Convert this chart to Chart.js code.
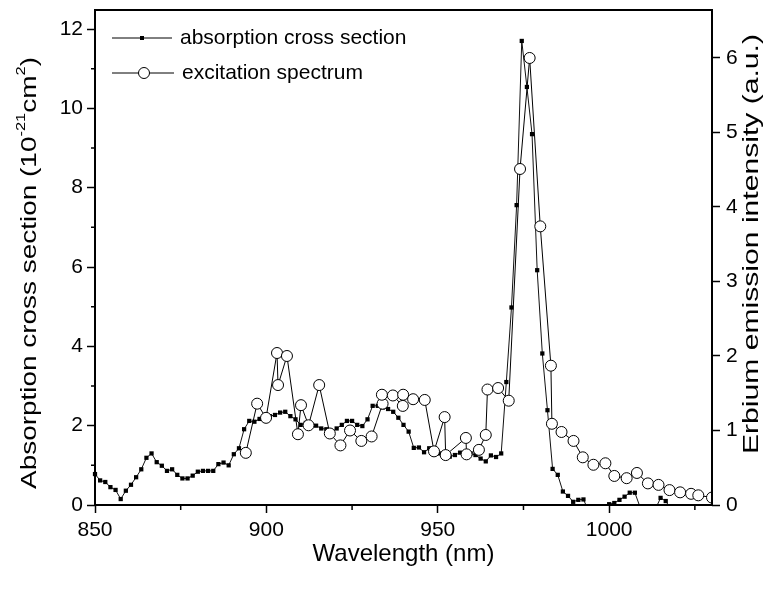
<!DOCTYPE html>
<html>
<head>
<meta charset="utf-8">
<script src="https://cdn.jsdelivr.net/npm/chart.js@4"></script>
<style>
  html, body { margin: 0; padding: 0; background: #fff; }
</style>
</head>
<body>
<canvas id="chart" width="774" height="590"></canvas>
<script>
// absorption cross section, 10^-21 cm^2 (left axis)
const absorption_wl = [
  850, 851.5, 853, 854.5, 856, 857.5, 859, 860.5, 862, 863.5,
  865, 866.5, 868, 869.5, 871, 872.5, 874, 875.5, 877, 878.5,
  880, 881.5, 883, 884.5, 886, 887.5, 889, 890.5, 892, 893.5,
  895, 896.5, 898, 899.5, 901, 902.5, 904, 905.5, 907, 908.5,
  910, 911.5, 913, 914.5, 916, 917.5, 919, 920.5, 922, 923.5,
  925, 926.5, 928, 929.5, 931, 932.5, 934, 935.5, 937, 938.5,
  940, 941.5, 943, 944.5, 946, 947.5, 949, 950.5, 952, 953.5,
  955, 956.5, 958, 959.5, 961, 962.5, 964, 965.5, 967, 968.5,
  970, 971.5, 973, 974.5, 976, 977.5, 979, 980.5, 982, 983.5,
  985, 986.5, 988, 989.5, 991, 992.5, 994, 995.5, 997, 998.5,
  1000, 1001.5, 1003, 1004.5, 1006, 1007.5, 1009, 1010.5, 1012, 1013.5,
  1015, 1016.5, 1018
];
const absorption = [
  0.78, 0.62, 0.58, 0.45, 0.38, 0.15, 0.36, 0.51, 0.70, 0.90,
  1.19, 1.30, 1.08, 0.99, 0.86, 0.90, 0.76, 0.67, 0.67, 0.74,
  0.84, 0.86, 0.86, 0.86, 1.03, 1.07, 1.00, 1.28, 1.43, 1.91,
  2.12, 2.10, 2.17, 2.21, 2.24, 2.27, 2.33, 2.35, 2.24, 2.16,
  2.02, 2.07, 2.02, 2.00, 1.93, 1.91, 1.83, 1.93, 2.02, 2.12,
  2.12, 2.02, 1.99, 2.16, 2.50, 2.50, 2.46, 2.42, 2.35, 2.20,
  2.02, 1.85, 1.44, 1.45, 1.33, 1.43, 1.36, 1.30, 1.27, 1.22,
  1.26, 1.32, 1.33, 1.30, 1.26, 1.17, 1.10, 1.25, 1.21, 1.30,
  3.10, 4.98, 7.56, 11.70, 10.54, 9.35, 5.92, 3.82, 2.39, 0.91,
  0.76, 0.34, 0.23, 0.08, 0.13, 0.14, -0.15, -0.30, -0.30, -0.10,
  0.02, 0.05, 0.13, 0.21, 0.31, 0.31, -0.05, -0.30, -0.30, -0.10,
  0.18, 0.10, -0.10
];

// excitation spectrum, a.u. (right axis)
const excitation_wl = [
  894.0, 897.3, 899.9, 903.1, 903.4, 906.0, 909.2, 910.1, 912.3, 915.4,
  918.5, 921.6, 924.4, 927.7, 930.7, 933.9, 933.7, 936.9, 939.8, 939.9,
  942.8, 946.2, 948.9, 952.0, 952.3, 958.2, 958.4, 962.0, 964.0, 964.5,
  967.6, 970.7, 974.0, 976.8, 979.9, 983.0, 983.3, 986.1, 989.6, 992.3,
  995.4, 998.9, 1001.5, 1005.1, 1008.1, 1011.3, 1014.4, 1017.6, 1020.7, 1023.9,
  1026.0, 1030.0
];
const excitation = [
  0.70, 1.36, 1.17, 2.04, 1.61, 2.00, 0.95, 1.34, 1.07, 1.61,
  0.96, 0.80, 1.00, 0.86, 0.92, 1.36, 1.48, 1.47, 1.33, 1.48,
  1.42, 1.41, 0.72, 1.18, 0.67, 0.90, 0.68, 0.74, 0.94, 1.55,
  1.57, 1.40, 4.51, 6.00, 3.74, 1.87, 1.09, 0.98, 0.86, 0.64,
  0.54, 0.56, 0.39, 0.36, 0.43, 0.29, 0.27, 0.20, 0.17, 0.15,
  0.13, 0.10
];

const x_ticks = [850, 900, 950, 1000];
const x_minor = [875, 925, 975, 1025];
const y_ticks = [0, 2, 4, 6, 8, 10, 12];
const y_minor = [1, 3, 5, 7, 9, 11];
const y2_ticks = [0, 1, 2, 3, 4, 5, 6];

const FONT = "'Liberation Sans', Arial, sans-serif";
const TICK_SIZE = 21;
const TITLE_SIZE = 22;

const pairs = (xs, ys) => xs.map((x, i) => ({ x: x, y: ys[i] }));

const frame = {
  id: "frame",
  afterDraw(chart) {
    const ctx = chart.ctx;
    const a = chart.chartArea;
    const sx = chart.scales.x;
    const sy = chart.scales.y;
    ctx.save();

    ctx.strokeStyle = "#000";
    ctx.lineWidth = 2;
    ctx.strokeRect(a.left, a.top, a.right - a.left, a.bottom - a.top);

    // minor ticks
    ctx.lineWidth = 1.5;
    ctx.beginPath();
    x_minor.forEach(v => {
      const p = sx.getPixelForValue(v);
      ctx.moveTo(p, a.bottom);
      ctx.lineTo(p, a.bottom + 5);
    });
    y_minor.forEach(v => {
      const p = sy.getPixelForValue(v);
      ctx.moveTo(a.left, p);
      ctx.lineTo(a.left - 4, p);
    });
    ctx.stroke();

    // axis titles, rotated, stretched along their length, with superscripts
    const rich = (parts, cx, cy, size, length) => {
      ctx.save();
      ctx.translate(cx, cy);
      ctx.rotate(-Math.PI / 2);
      ctx.fillStyle = "#000";
      ctx.textBaseline = "middle";
      const sub = Math.round(size * 0.6);
      let total = 0;
      parts.forEach(p => {
        ctx.font = (p[1] ? sub : size) + "px " + FONT;
        total += ctx.measureText(p[0]).width;
      });
      ctx.scale(length / total, 1);
      let x = -total / 2;
      parts.forEach(p => {
        ctx.font = (p[1] ? sub : size) + "px " + FONT;
        ctx.fillText(p[0], x, p[1] ? -size * 0.4 : 0);
        x += ctx.measureText(p[0]).width;
      });
      ctx.restore();
    };
    rich([["Absorption cross section (10", false], ["-21", true], ["cm", false], ["2", true], [")", false]], 30, 273, TITLE_SIZE, 432);
    rich([["Erbium emission intensity (a.u.)", false]], 752, 244, TITLE_SIZE, 420);

    // legend
    ctx.fillStyle = "#000";
    ctx.lineWidth = 1;
    ctx.beginPath();
    ctx.moveTo(112, 38); ctx.lineTo(172, 38);
    ctx.moveTo(112, 73); ctx.lineTo(174, 73);
    ctx.stroke();
    ctx.fillRect(140, 36, 4, 4);
    ctx.beginPath();
    ctx.arc(144, 73, 5.5, 0, Math.PI * 2);
    ctx.fillStyle = "#fff";
    ctx.fill();
    ctx.stroke();
    ctx.fillStyle = "#000";
    ctx.font = TICK_SIZE + "px " + FONT;
    ctx.textBaseline = "middle";
    ctx.fillText("absorption cross section", 180, 38);
    ctx.fillText("excitation spectrum", 182, 73);

    ctx.restore();
  }
};

const gridOpts = {
  drawOnChartArea: false,
  drawTicks: true,
  tickLength: 8,
  tickColor: "#000",
  tickWidth: 1.5
};

const noPad = s => {
  s.paddingTop = 0;
  s.paddingBottom = 0;
  s.paddingLeft = 0;
  s.paddingRight = 0;
};

new Chart(document.getElementById("chart").getContext("2d"), {
  type: "line",
  data: {
    datasets: [
      {
        label: "excitation spectrum",
        data: pairs(excitation_wl, excitation),
        yAxisID: "y2",
        borderColor: "#000",
        borderWidth: 1,
        pointStyle: "circle",
        pointRadius: 5.5,
        pointBorderWidth: 1,
        pointBackgroundColor: "#fff",
        pointBorderColor: "#000",
        tension: 0,
        order: 0
      },
      {
        label: "absorption cross section",
        data: pairs(absorption_wl, absorption),
        yAxisID: "y",
        borderColor: "#111",
        borderWidth: 1,
        pointStyle: "rect",
        pointRadius: 3,
        pointBorderWidth: 0,
        pointBackgroundColor: "#000",
        tension: 0,
        clip: { left: 8, top: 8, right: 8, bottom: 0 },
        order: 1
      }
    ]
  },
  options: {
    responsive: false,
    animation: false,
    layout: { padding: { top: 10, left: 0, right: 0, bottom: 0 } },
    plugins: {
      legend: { display: false },
      tooltip: { enabled: false }
    },
    scales: {
      x: {
        type: "linear",
        min: 850,
        max: 1030,
        afterBuildTicks: s => { s.ticks = x_ticks.map(v => ({ value: v })); },
        afterFit: s => { s.height = 85; noPad(s); },
        grid: gridOpts,
        border: { display: false },
        ticks: {
          color: "#000",
          font: { family: FONT, size: TICK_SIZE },
          padding: 5,
          maxRotation: 0,
          callback: v => String(v)
        },
        title: {
          display: true,
          text: "Wavelength (nm)",
          color: "#000",
          font: { family: FONT, size: 24 },
          padding: { top: 0, bottom: 21 }
        }
      },
      y: {
        type: "linear",
        position: "left",
        min: 0,
        max: 12.48,
        afterBuildTicks: s => { s.ticks = y_ticks.map(v => ({ value: v })); },
        afterFit: s => { s.width = 95; noPad(s); },
        grid: gridOpts,
        border: { display: false },
        ticks: { color: "#000", font: { family: FONT, size: TICK_SIZE }, padding: 4, callback: v => String(v) }
      },
      y2: {
        type: "linear",
        position: "right",
        min: 0,
        max: 6.644,
        afterBuildTicks: s => { s.ticks = y2_ticks.map(v => ({ value: v })); },
        afterFit: s => { s.width = 62; noPad(s); },
        grid: gridOpts,
        border: { display: false },
        ticks: { color: "#000", font: { family: FONT, size: TICK_SIZE }, padding: 6, callback: v => String(v) }
      }
    }
  },
  plugins: [frame]
});
</script>
</body>
</html>
